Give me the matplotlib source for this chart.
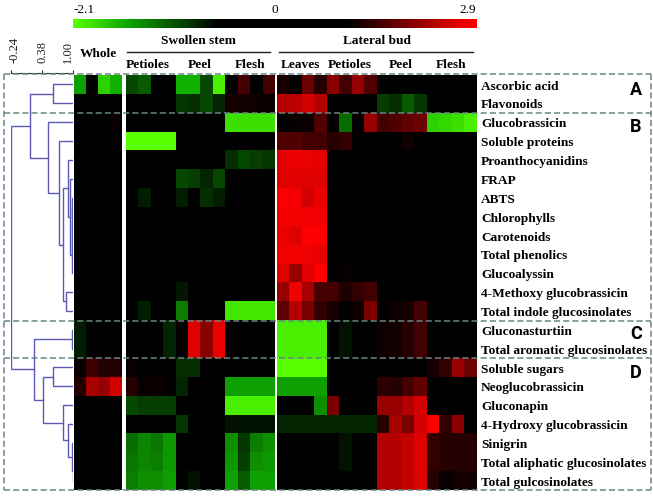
import matplotlib
matplotlib.use('Agg')
import matplotlib.pyplot as plt
import numpy as np
from matplotlib.colors import LinearSegmentedColormap, TwoSlopeNorm

W, H = 653, 497

compounds = ['Ascorbic acid', 'Flavonoids', 'Glucobrassicin', 'Soluble proteins',
             'Proanthocyanidins', 'FRAP', 'ABTS', 'Chlorophylls', 'Carotenoids',
             'Total phenolics', 'Glucoalyssin', '4-Methoxy glucobrassicin',
             'Total indole glucosinolates', 'Gluconasturtiin',
             'Total aromatic glucosinolates', 'Soluble sugars', 'Neoglucobrassicin',
             'Gluconapin', '4-Hydroxy glucobrassicin', 'Sinigrin',
             'Total aliphatic glucosinolates', 'Total gulcosinolates']

tissue_labels = ['Petioles', 'Peel', 'Flesh', 'Leaves', 'Petioles', 'Peel', 'Flesh']
tick_values = [-0.24, 0.38, 1.00]
tick_labels = ['-0.24', '0.38', '1.00']

# whole plant, 4 replicates per row
whole = [
    [-1.5, 0, -1.8, -1.6], [0, 0, 0, 0], [0, 0, 0, 1.1], [0, 0, 0, 0], [0, 0, 0, 0],
    [0, 0, 0, 0], [0, 0, 0, 0], [0, 0, 0, 0], [0, 0, 0, 0], [0, 0, 0, 0], [0, 0, 0, 0],
    [0, 0, 0, 0], [0, 0, 0, 0], [-0.75, 0, 0, 0], [-0.75, 0, 0, 0],
    [1.1, 1.45, 1.3, 1.3], [1.3, 2.2, 2.1, 2.5], [0, 0, 0, 0], [0, 0, 0, 0],
    [0, 0, 0, 0], [0, 0, 0, 0], [0, 0, 0, 0],
]

# swollen stem: petioles, peel, flesh
stem = [
    [-1.0, -1.1, 0, 0, -1.6, -1.6, -1.0, -2.0, 0, 1.5, 0, 1.5],
    [0, 0, 0, 0, -0.9, -0.85, -1.0, -0.8, 1.2, 1.2, 1.15, 1.1],
    [0, 0, 0, 0, 0, 0, 0, 0, -1.9, -1.9, -1.9, -1.9],
    [-2.1, -2.1, -2.1, -2.1, 0, 0, 0, 0, 0, 0, 0, 0],
    [0, 0, 0, 0, 0, 0, 0, 0, -0.85, -1.0, -0.95, -0.9],
    [0, 0, 0, 0, -1.0, -0.95, -0.8, -1.0, 0, 0, 0, 0],
    [0, -0.75, 0, 0, -0.75, 0, -0.85, -0.75, 0, 0, 0, 0],
    [0, 0, 0, 0, 0, 0, 0, 0, 0, 0, 0, 0],
    [0, 0, 0, 0, 0, 0, 0, 0, 0, 0, 0, 0],
    [0, 0, 0, 0, 0, 0, 0, 0, 0, 0, 0, 0],
    [0, 0, 0, 0, 0, 0, 0, 0, 0, 0, 0, 0],
    [0, 0, 0, 0, -0.72, 0, 0, 0, 0, 0, 0, 0],
    [0, -0.75, 0, 0, -1.3, 0, 0, 0, -1.95, -1.95, -1.95, -1.95],
    [0, 0, 0, -0.8, 0, 2.6, 2.0, 2.7, 0, 0, 0, 0],
    [0, 0, 0, -0.8, 0, 2.6, 2.0, 2.7, 0, 0, 0, 0],
    [1.1, 0, 0, 0, -0.85, -0.85, 0, 0, 0, 0, 0, 0],
    [1.3, 1.1, 1.15, 0, -0.8, 0, 0, 0, -1.5, -1.5, -1.5, -1.5],
    [-1.0, -0.95, -0.95, -0.95, 0, 0, 0, 0, -2.0, -2.0, -2.0, -2.0],
    [0, 0, 0, 0, -0.9, 0, 0, 0, -0.7, -0.7, -0.7, -0.7],
    [-1.2, -1.35, -1.25, -1.45, 0, 0, 0, 0, -1.4, -0.9, -1.3, -1.4],
    [-1.25, -1.35, -1.3, -1.45, 0, 0, 0, 0, -1.45, -0.95, -1.4, -1.45],
    [-1.3, -1.4, -1.4, -1.5, 0, -0.7, 0, 0, -1.5, -1.1, -1.5, -1.5],
]

# lateral bud: leaves, petioles, peel, flesh
bud = [
    [1.2, 0, 1.8, 1.3, 2.0, 1.5, 2.1, 1.6, 0, 0, 0, 0, 0, 0, 0, 0],
    [2.3, 2.35, 2.5, 2.3, 0, 0, 0, 0, -0.95, -0.85, -1.1, -0.9, 0, 0, 0, 0],
    [0, 1.1, 1.1, 1.6, 0, -1.2, 0, 2.1, 1.5, 1.6, 1.7, 1.8, -1.8, -1.85, -1.9, -2.0],
    [1.6, 1.6, 1.5, 1.5, 1.3, 1.4, 0, 0, 0, 0, 1.15, 0, 0, 0, 0, 0],
    [2.65, 2.75, 2.7, 2.65, 0, 0, 0, 0, 0, 0, 0, 0, 0, 0, 0, 0],
    [2.6, 2.65, 2.6, 2.6, 0, 0, 0, 0, 0, 0, 0, 0, 0, 0, 0, 0],
    [2.85, 2.8, 2.5, 2.7, 0, 0, 0, 0, 0, 0, 0, 0, 0, 0, 0, 0],
    [2.8, 2.8, 2.75, 2.8, 0, 0, 0, 0, 0, 0, 0, 0, 0, 0, 0, 0],
    [2.7, 2.6, 2.9, 2.9, 0, 0, 0, 0, 0, 0, 0, 0, 0, 0, 0, 0],
    [2.75, 2.8, 2.75, 2.7, 0, 0, 0, 0, 0, 0, 0, 0, 0, 0, 0, 0],
    [2.6, 2.1, 2.6, 2.9, 0, 1.1, 0, 0, 0, 0, 0, 0, 0, 0, 0, 0],
    [2.1, 2.75, 2.2, 1.55, 1.5, 1.25, 1.4, 1.5, 0, 0, 0, 0, 0, 0, 0, 0],
    [1.7, 2.3, 1.9, 1.4, 1.2, 0, 1.15, 1.9, 0, 1.15, 1.2, 1.5, 0, 0, 0, 0],
    [-2.0, -2.0, -2.0, -2.0, 0, -0.7, 0, 0, 1.15, 1.2, 1.3, 1.5, 0, 0, 0, 0],
    [-2.0, -2.0, -2.0, -2.0, 0, -0.7, 0, 0, 1.15, 1.2, 1.3, 1.5, 0, 0, 0, 0],
    [-2.1, -2.1, -2.1, -2.1, 0, 0, 0, 0, 0, 0, 0, 0, 1.2, 1.4, 2.1, 1.8],
    [-1.5, -1.5, -1.5, -1.5, 0, 0, 0, 0, 1.35, 1.3, 1.5, 1.7, 0, 0, 0, 0],
    [0, 0, 0, -1.4, 1.9, 0, 0, 0, 2.1, 2.1, 2.3, 2.5, 0, 0, 0, 0],
    [-0.8, -0.8, -0.8, -0.8, -0.8, -0.8, -0.8, -0.8, 1.3, 2.2, 1.9, 2.5, 2.9, 1.4, 2.0, 0],
    [0, 0, 0, 0, 0, -0.7, 0, 0, 2.3, 2.3, 2.4, 2.6, 1.4, 1.3, 1.3, 1.3],
    [0, 0, 0, 0, 0, -0.7, 0, 0, 2.3, 2.3, 2.4, 2.6, 1.4, 1.3, 1.3, 1.3],
    [0, 0, 0, 0, 0, 0, 0, 0, 2.3, 2.3, 2.4, 2.6, 1.3, 1.1, 1.2, 1.2],
]

# dendrogram: (height, child, child), a child is a row number or another node
cluster_a = (0.60, 0, 1)
cluster_b = (0.50, 2, (0.72, 3, (0.80,
             (0.90, 4, (0.94, 5, (0.97, (0.975, (0.98, (0.985, 6, 7), 8), 9), 10))),
             (0.86, 11, 12))))
cluster_c = (0.97, 13, 14)
cluster_d = (0.40, (0.60, 15, 16), (0.80, 17, (0.90, 18, (0.97, 19, (0.99, 20, 21)))))
tree = (-0.24, (0.14, cluster_a, cluster_b), (0.22, cluster_c, cluster_d))


def px_axes(x0, y0, x1, y1, **kw):
    return fig.add_axes([x0 / W, 1 - y1 / H, (x1 - x0) / W, (y1 - y0) / H], **kw)


def draw_node(ax, node):
    if not isinstance(node, tuple):
        return node + 0.5, 1.0
    h, a, b = node
    ya, ha = draw_node(ax, a)
    yb, hb = draw_node(ax, b)
    ax.plot([ha, h, h, hb], [ya, ya, yb, yb], color='#5a5ab4', lw=1.0, solid_joinstyle='miter')
    return (ya + yb) / 2, h


plt.rcParams['font.family'] = ['Liberation Serif', 'DejaVu Serif']

cmap = LinearSegmentedColormap.from_list('gbr', [
    (0.0, '#58ff00'), (0.12, '#10b000'), (0.36, '#000000'),
    (0.68, '#000000'), (0.95, '#e00000'), (1.0, '#ff0000')])
norm = TwoSlopeNorm(vmin=-2.1, vcenter=0, vmax=2.9)

fig = plt.figure(figsize=(W / 100, H / 100), dpi=100, facecolor='white')

top, bottom = 75, 490
panels = [(whole, 74, 122), (stem, 125.5, 274), (bud, 277, 477)]
for values, x0, x1 in panels:
    ax = px_axes(x0, top, x1, bottom)
    ax.imshow(np.array(values, dtype=float), cmap=cmap, norm=norm, aspect='auto',
              interpolation='nearest')
    ax.axis('off')

# colour key
cax = px_axes(73, 19, 477, 28)
cax.imshow(np.linspace(0, 1, 256)[None, :], cmap=cmap, vmin=0, vmax=1, aspect='auto')
cax.axis('off')

# dendrogram with its scale
dax = px_axes(11, top, 73, bottom)
dax.set_xlim(-0.24, 1.0)
dax.set_ylim(len(compounds), 0)
draw_node(dax, tree)
for s in dax.spines.values():
    s.set_visible(False)
dax.spines['top'].set_visible(True)
dax.spines['top'].set_position(('outward', 1.5))
dax.spines['top'].set_linewidth(0.8)
dax.spines['top'].set_color('#303030')
dax.set_yticks([])
dax.xaxis.tick_top()
dax.set_xticks(tick_values)
dax.set_xticklabels([])
dax.tick_params(axis='x', length=2, width=0.8, color='#303030', direction='out')
for v, s, dx in zip(tick_values, tick_labels, [4, 1, -5]):
    dax.annotate(s, (v, 1), xycoords=dax.get_xaxis_transform(), xytext=(dx, 12),
                 textcoords='offset pixels', rotation=90, ha='center', va='bottom',
                 fontsize=9, color='#202020')

# overlay in pixel coordinates for text and group boxes
over = fig.add_axes([0, 0, 1, 1], zorder=5)
over.set_xlim(0, W)
over.set_ylim(H, 0)
over.axis('off')

for x, s in zip([84, 275, 468], ['-2.1', '0', '2.9']):
    over.text(x, 13, s, ha='center', va='baseline', fontsize=9.5)

bold = dict(fontweight='bold', fontsize=9.6, color='black', va='baseline')
over.text(98, 57, 'Whole', ha='center', **bold)
over.text(198, 44.5, 'Swollen stem', ha='center', **bold)
over.text(377, 44.5, 'Lateral bud', ha='center', **bold)
over.plot([127, 270], [51.5, 51.5], color='#202020', lw=1)
over.plot([279, 473], [51.5, 51.5], color='#202020', lw=1)
for x, s in zip([148, 200, 250, 300, 350, 401, 451], tissue_labels):
    over.text(x, 68, s, ha='center', **bold)

row_h = (bottom - top) / len(compounds)
for i, s in enumerate(compounds):
    over.text(481, top + row_h * (i + 0.5) + 5.2, s, ha='left', **bold)

# dashed group boxes
box_edges = [74, 113, 320.5, 358, 490]
for y in box_edges:
    over.plot([4, 650.5], [y, y], color='#6a8585', lw=1.1, ls=(0, (4, 2)))
over.plot([4, 4], [74, 490], color='#6a8585', lw=1.1, ls=(0, (4, 2)))
over.plot([650.5, 650.5], [74, 490], color='#6a8585', lw=1.1, ls=(0, (4, 2)))

for y, s in zip([90, 127, 334, 373], ['A', 'B', 'C', 'D']):
    over.text(636, y, s, ha='center', va='center', fontsize=13, fontweight='bold',
              family='Roboto')

fig.savefig('out.png', dpi=100)
